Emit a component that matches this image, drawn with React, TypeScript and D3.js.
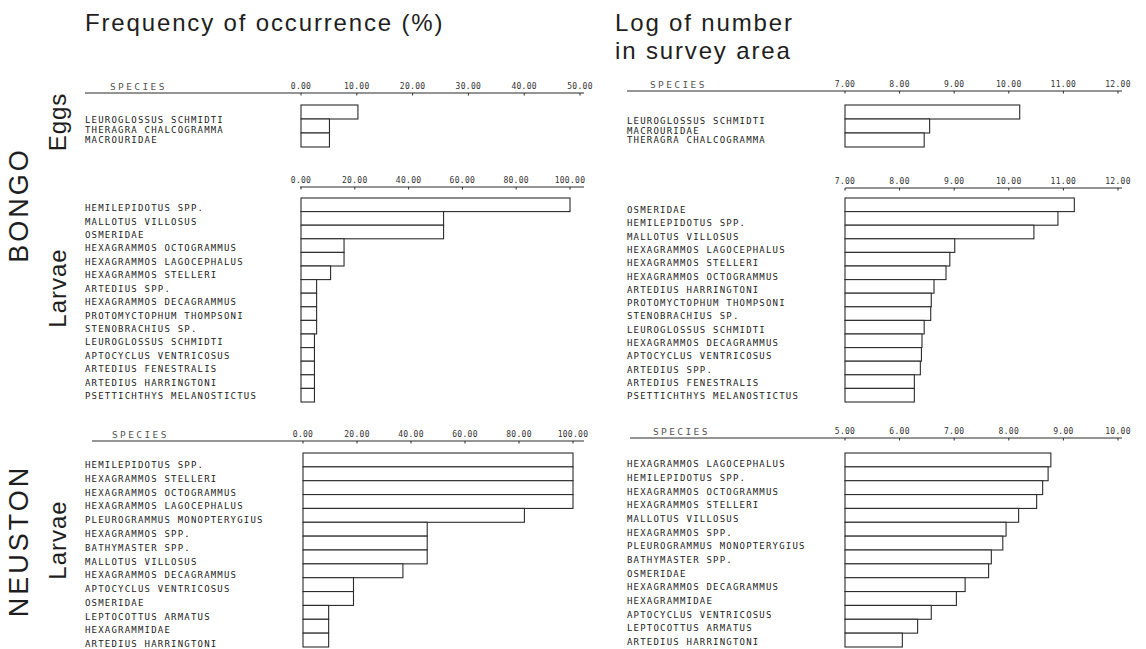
import React from 'react';
import * as d3 from 'd3';

// ---------------- DATA ----------------
const bongoEggsFreqSpecies = ['LEUROGLOSSUS SCHMIDTI', 'THERAGRA CHALCOGRAMMA', 'MACROURIDAE'];
const bongoEggsFreqValues = [10.2, 5.1, 5.1];
const bongoEggsFreqTicks = [0, 10, 20, 30, 40, 50];

const bongoEggsLogSpecies = ['LEUROGLOSSUS SCHMIDTI', 'MACROURIDAE', 'THERAGRA CHALCOGRAMMA'];
const bongoEggsLogValues = [10.2, 8.55, 8.45];
const bongoEggsLogTicks = [7, 8, 9, 10, 11, 12];

const bongoLarvaeFreqSpecies = [
  'HEMILEPIDOTUS SPP.', 'MALLOTUS VILLOSUS', 'OSMERIDAE', 'HEXAGRAMMOS OCTOGRAMMUS',
  'HEXAGRAMMOS LAGOCEPHALUS', 'HEXAGRAMMOS STELLERI', 'ARTEDIUS SPP.', 'HEXAGRAMMOS DECAGRAMMUS',
  'PROTOMYCTOPHUM THOMPSONI', 'STENOBRACHIUS SP.', 'LEUROGLOSSUS SCHMIDTI', 'APTOCYCLUS VENTRICOSUS',
  'ARTEDIUS FENESTRALIS', 'ARTEDIUS HARRINGTONI', 'PSETTICHTHYS MELANOSTICTUS',
];
const bongoLarvaeFreqValues = [100, 53, 53, 16, 16, 11, 5.8, 5.8, 5.8, 5.8, 5.0, 5.0, 5.0, 5.0, 5.0];
const bongoLarvaeFreqTicks = [0, 20, 40, 60, 80, 100];

const bongoLarvaeLogSpecies = [
  'OSMERIDAE', 'HEMILEPIDOTUS SPP.', 'MALLOTUS VILLOSUS', 'HEXAGRAMMOS LAGOCEPHALUS',
  'HEXAGRAMMOS STELLERI', 'HEXAGRAMMOS OCTOGRAMMUS', 'ARTEDIUS HARRINGTONI', 'PROTOMYCTOPHUM THOMPSONI',
  'STENOBRACHIUS SP.', 'LEUROGLOSSUS SCHMIDTI', 'HEXAGRAMMOS DECAGRAMMUS', 'APTOCYCLUS VENTRICOSUS',
  'ARTEDIUS SPP.', 'ARTEDIUS FENESTRALIS', 'PSETTICHTHYS MELANOSTICTUS',
];
const bongoLarvaeLogValues = [11.2, 10.9, 10.46, 9.01, 8.92, 8.85, 8.63, 8.58, 8.57, 8.45, 8.41, 8.4, 8.38, 8.27, 8.27];
const bongoLarvaeLogTicks = [7, 8, 9, 10, 11, 12];

const neustonLarvaeFreqSpecies = [
  'HEMILEPIDOTUS SPP.', 'HEXAGRAMMOS STELLERI', 'HEXAGRAMMOS OCTOGRAMMUS', 'HEXAGRAMMOS LAGOCEPHALUS',
  'PLEUROGRAMMUS MONOPTERYGIUS', 'HEXAGRAMMOS SPP.', 'BATHYMASTER SPP.', 'MALLOTUS VILLOSUS',
  'HEXAGRAMMOS DECAGRAMMUS', 'APTOCYCLUS VENTRICOSUS', 'OSMERIDAE', 'LEPTOCOTTUS ARMATUS',
  'HEXAGRAMMIDAE', 'ARTEDIUS HARRINGTONI',
];
const neustonLarvaeFreqValues = [100, 100, 100, 100, 82, 46, 46, 46, 37, 18.7, 18.7, 9.5, 9.5, 9.5];
const neustonLarvaeFreqTicks = [0, 20, 40, 60, 80, 100];

const neustonLarvaeLogSpecies = [
  'HEXAGRAMMOS LAGOCEPHALUS', 'HEMILEPIDOTUS SPP.', 'HEXAGRAMMOS OCTOGRAMMUS', 'HEXAGRAMMOS STELLERI',
  'MALLOTUS VILLOSUS', 'HEXAGRAMMOS SPP.', 'PLEUROGRAMMUS MONOPTERYGIUS', 'BATHYMASTER SPP.',
  'OSMERIDAE', 'HEXAGRAMMOS DECAGRAMMUS', 'HEXAGRAMMIDAE', 'APTOCYCLUS VENTRICOSUS',
  'LEPTOCOTTUS ARMATUS', 'ARTEDIUS HARRINGTONI',
];
const neustonLarvaeLogValues = [8.77, 8.72, 8.62, 8.51, 8.18, 7.95, 7.89, 7.68, 7.63, 7.2, 7.04, 6.58, 6.33, 6.05];
const neustonLarvaeLogTicks = [5, 6, 7, 8, 9, 10];

// ---------------- LAYOUT ----------------
const W = 1146;
const H = 649;
const INK = '#2b2b2b';
const MONO = '"DejaVu Sans Mono", "Liberation Mono", monospace';
const SANS = '"Liberation Sans", Arial, sans-serif';

type Panel = {
  species: string[];
  values: number[];
  ticks: number[];
  xRange: [number, number];
  labelX: number;
  axisY: number;
  lineStart: number;
  lineEnd: number;
  speciesHeader?: number;
  rows: [number, number];
  labels: [number, number];
};

const panels: Panel[] = [
  {
    species: bongoEggsFreqSpecies, values: bongoEggsFreqValues, ticks: bongoEggsFreqTicks,
    xRange: [301, 580], labelX: 85, axisY: 93, lineStart: 85, lineEnd: 584, speciesHeader: 110,
    rows: [105, 147], labels: [120, 140],
  },
  {
    species: bongoEggsLogSpecies, values: bongoEggsLogValues, ticks: bongoEggsLogTicks,
    xRange: [845, 1118], labelX: 627, axisY: 91, lineStart: 627, lineEnd: 1122, speciesHeader: 650,
    rows: [105, 147], labels: [121, 140],
  },
  {
    species: bongoLarvaeFreqSpecies, values: bongoLarvaeFreqValues, ticks: bongoLarvaeFreqTicks,
    xRange: [301, 570], labelX: 85, axisY: 187, lineStart: 300, lineEnd: 584,
    rows: [198, 402], labels: [208, 396],
  },
  {
    species: bongoLarvaeLogSpecies, values: bongoLarvaeLogValues, ticks: bongoLarvaeLogTicks,
    xRange: [845, 1118], labelX: 627, axisY: 188, lineStart: 845, lineEnd: 1122,
    rows: [198, 402], labels: [210, 396],
  },
  {
    species: neustonLarvaeFreqSpecies, values: neustonLarvaeFreqValues, ticks: neustonLarvaeFreqTicks,
    xRange: [303, 573], labelX: 85, axisY: 441, lineStart: 92, lineEnd: 584, speciesHeader: 112,
    rows: [453, 647], labels: [465, 644],
  },
  {
    species: neustonLarvaeLogSpecies, values: neustonLarvaeLogValues, ticks: neustonLarvaeLogTicks,
    xRange: [845, 1118], labelX: 627, axisY: 438, lineStart: 630, lineEnd: 1122, speciesHeader: 653,
    rows: [453, 647], labels: [464, 642],
  },
];

function PanelView({ p }: { p: Panel }) {
  const x = d3.scaleLinear().domain([p.ticks[0], p.ticks[p.ticks.length - 1]]).range(p.xRange);
  const band = d3.scaleBand<string>().domain(p.species).range(p.rows).padding(0);
  const lab = d3.scalePoint<string>().domain(p.species).range(p.labels);
  const x0 = x(p.ticks[0]);
  return (
    <g>
      <line x1={p.lineStart} x2={p.lineEnd} y1={p.axisY} y2={p.axisY} stroke={INK} strokeWidth={1} />
      {p.speciesHeader !== undefined && (
        <text x={p.speciesHeader} y={p.axisY - 3} fontFamily={MONO} fontSize={9.5} letterSpacing={2.4} fill="#555">
          SPECIES
        </text>
      )}
      {p.ticks.map((t) => (
        <g key={t}>
          <line x1={x(t)} x2={x(t)} y1={p.axisY} y2={p.axisY + 2.5} stroke={INK} strokeWidth={1} />
          <text x={x(t)} y={p.axisY - 4} textAnchor="middle" fontFamily={MONO} fontSize={8} letterSpacing={0.3} fill="#333">
            {t.toFixed(2)}
          </text>
        </g>
      ))}
      {p.species.map((s, i) => (
        <rect
          key={'b' + i}
          x={x0}
          y={band(s)}
          width={x(p.values[i]) - x0}
          height={band.bandwidth()}
          fill="#fff"
          stroke={INK}
          strokeWidth={1.1}
        />
      ))}
      {p.species.map((s, i) => (
        <text
          key={'l' + i}
          x={p.labelX}
          y={lab(s)}
          dy="0.35em"
          fontFamily={MONO}
          fontSize={9}
          letterSpacing={1.2}
          fill="#222"
        >
          {s}
        </text>
      ))}
    </g>
  );
}

export default function App() {
  return (
    <svg
      width={W}
      height={H}
      viewBox={`0 0 ${W} ${H}`}
      style={{ position: 'absolute', left: 0, top: 0, background: '#fff', display: 'block' }}
    >
      <rect x={0} y={0} width={W} height={H} fill="#fff" />
      <text x={85} y={31} fontFamily={SANS} fontSize={24} letterSpacing={1.85} fill="#1e1e1e">
        Frequency of occurrence (%)
      </text>
      <text x={615} y={31} fontFamily={SANS} fontSize={24} letterSpacing={1.85} fill="#1e1e1e">
        Log of number
      </text>
      <text x={615} y={59} fontFamily={SANS} fontSize={24} letterSpacing={1.85} fill="#1e1e1e">
        in survey area
      </text>

      <text transform="translate(28,205) rotate(-90)" textAnchor="middle" fontFamily={SANS} fontSize={27} letterSpacing={3} fill="#1e1e1e">
        BONGO
      </text>
      <text transform="translate(28,541) rotate(-90)" textAnchor="middle" fontFamily={SANS} fontSize={27} letterSpacing={3} fill="#1e1e1e">
        NEUSTON
      </text>
      <text transform="translate(66,122) rotate(-90)" textAnchor="middle" fontFamily={SANS} fontSize={24} letterSpacing={1} fill="#1e1e1e">
        Eggs
      </text>
      <text transform="translate(66,288) rotate(-90)" textAnchor="middle" fontFamily={SANS} fontSize={24} letterSpacing={1} fill="#1e1e1e">
        Larvae
      </text>
      <text transform="translate(66,540) rotate(-90)" textAnchor="middle" fontFamily={SANS} fontSize={24} letterSpacing={1} fill="#1e1e1e">
        Larvae
      </text>

      {panels.map((p, i) => (
        <PanelView key={i} p={p} />
      ))}
    </svg>
  );
}
